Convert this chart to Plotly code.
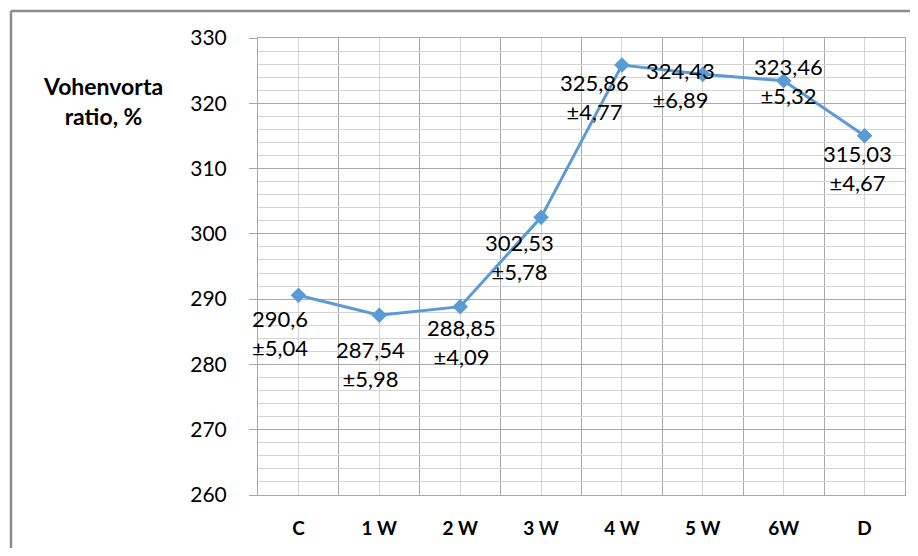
import plotly.graph_objects as go

categories = ["C", "1 W", "2 W", "3 W", "4 W", "5 W", "6W", "D"]
values = [290.6, 287.54, 288.85, 302.53, 325.86, 324.43, 323.46, 315.03]
errors = ["5,04", "5,98", "4,09", "5,78", "4,77", "6,89", "5,32", "4,67"]
value_labels = ["290,6", "287,54", "288,85", "302,53", "325,86", "324,43", "323,46", "315,03"]
y_ticks = [260, 270, 280, 290, 300, 310, 320, 330]

# label offsets in pixels (style only)
label_dx = [-18, -9, 1, -22, -27, -22, 5, -7]
label_dy = [-38, -49, -35, -40, -32, -11, 0, -32]

FONT = "Lato, Carlito, Calibri, sans-serif"
xs = list(range(len(categories)))

# page has an 8px body margin: work in figure pixel coords = screen - 8
OFF = 8
W, H = 918 - 2 * OFF, 556 - 2 * OFF
PL, PR, PT, PB = 258 - OFF, 905 - OFF, 38 - OFF, 495 - OFF
L, R, T, B = PL, W - PR, PT, H - PB
pw, ph = PR - PL, PB - PT

def px_x(p):
    return (p - OFF - PL) / pw

def px_y(p):
    return (PB - (p - OFF)) / ph

fig = go.Figure()
fig.add_trace(go.Scatter(
    x=xs, y=values, mode="lines+markers",
    line=dict(color="#5B9BD5", width=3),
    marker=dict(symbol="diamond", size=12, color="#5B9BD5"),
    hoverinfo="skip", showlegend=False,
))

annotations = []
for i, (x, v, lab, e) in enumerate(zip(xs, values, value_labels, errors)):
    annotations.append(dict(
        x=x, y=v, xref="x", yref="y",
        text=f"{lab}<br>±{e}", showarrow=False,
        xshift=label_dx[i], yshift=label_dy[i],
        xanchor="center", yanchor="middle",
        font=dict(family=FONT, size=22, color="#000"),
        align="center",
    ))
annotations.append(dict(
    x=px_x(103), y=px_y(101),
    xref="paper", yref="paper", xanchor="center", yanchor="middle",
    text="<b>Vohenvorta<br>ratio, %</b>", showarrow=False,
    font=dict(family=FONT, size=23, color="#000"), align="center",
))

border = dict(color="#8c8c8c", width=2.5)
fig.update_layout(
    width=W, height=H,
    margin=dict(l=L, r=R, t=T, b=B, pad=0),
    paper_bgcolor="white", plot_bgcolor="white",
    annotations=annotations,
    shapes=[
        dict(type="line", xref="paper", yref="paper",
             x0=px_x(11), x1=px_x(11), y0=px_y(11), y1=px_y(600), line=border, layer="above"),
        dict(type="line", xref="paper", yref="paper",
             x0=px_x(11), x1=px_x(960), y0=px_y(11), y1=px_y(11), line=border, layer="above"),
    ],
)
fig.update_xaxes(
    range=[-0.5, len(categories) - 0.5],
    tickmode="array", tickvals=xs, ticktext=[f"<b>{c}</b>" for c in categories],
    tickfont=dict(family=FONT, size=19, color="#000"),
    showgrid=True, gridcolor="#d3d3d3", gridwidth=1,
    minor=dict(tickmode="array", tickvals=[x - 0.5 for x in xs] + [len(categories) - 0.5],
               showgrid=True, gridcolor="#a8a8a8", gridwidth=1, ticks=""),
    showline=True, linecolor="#a8a8a8", linewidth=1, mirror=True,
    ticks="", ticklabelstandoff=16, zeroline=False,
)
fig.update_yaxes(
    range=[260, 330], tickmode="array", tickvals=y_ticks,
    tickfont=dict(family=FONT, size=21, color="#000"),
    showgrid=True, gridcolor="#a8a8a8", gridwidth=1,
    minor=dict(dtick=2, showgrid=True, gridcolor="#d3d3d3", gridwidth=1),
    showline=True, linecolor="#a8a8a8", linewidth=1, mirror=True,
    ticks="outside", ticklen=8, tickcolor="#a8a8a8",
    ticklabelstandoff=18, zeroline=False,
)

fig.write_html("out.html")
